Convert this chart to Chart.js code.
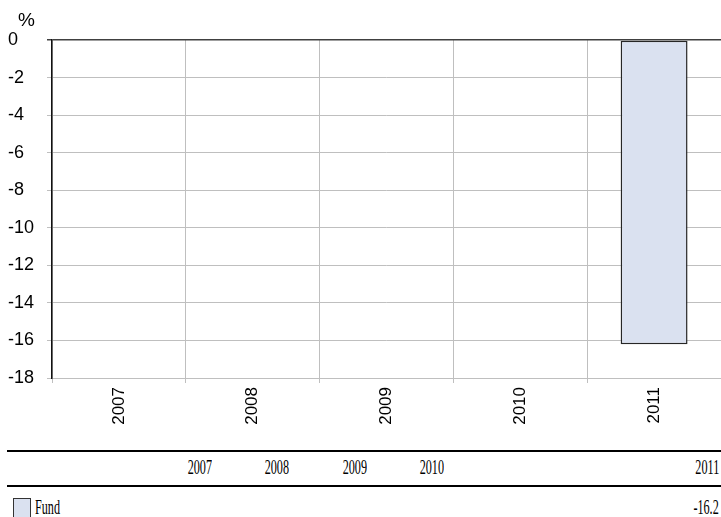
<!DOCTYPE html>
<html>
<head>
<meta charset="utf-8">
<script src="https://cdn.jsdelivr.net/npm/chart.js@4/dist/chart.umd.min.js"></script>
<style>
  body { margin: 0; background: #fff; }
  #wrap { position: relative; width: 721px; height: 517px; overflow: hidden; }
  #chart { position: absolute; left: 0; top: 0; }
  .rule { position: absolute; left: 7px; width: 714px; height: 2px; background: #000; }
  .cell {
    position: absolute; font: 21px "Liberation Serif", serif; color: #000;
    white-space: nowrap; transform: scaleX(0.58); transform-origin: right center;
    line-height: 22px;
  }
  .cell.left { transform-origin: left center; }
  #swatch {
    position: absolute; left: 13px; top: 498px; width: 16px; height: 18px;
    background: #dae1f0; border: 1px solid #333;
  }
</style>
</head>
<body>
<div id="wrap">
  <canvas id="chart" width="721" height="440"></canvas>
  <div class="rule" style="top:450px"></div>
  <div class="rule" style="top:485px"></div>
  <div id="swatch"></div>
</div>
<script>
// Data
const years = ["2007", "2008", "2009", "2010", "2011"];
const fundValues = [null, null, null, null, -16.2];
const seriesName = "Fund";
const yMin = -18;
const yMax = 0;
const yStep = 2;
const unitLabel = "%";

// table column right edges
const colRight = [212, 289, 367, 444, 719];

const wrap = document.getElementById("wrap");

function addCell(text, right, centerY, leftAligned) {
  const el = document.createElement("div");
  el.className = "cell" + (leftAligned ? " left" : "");
  el.textContent = text;
  el.style.top = centerY - 11 + "px";
  if (leftAligned) el.style.left = right + "px";
  else el.style.right = 721 - right + "px";
  wrap.appendChild(el);
}

years.forEach((y, i) => addCell(y, colRight[i], 467, false));
addCell(seriesName, 35, 507, true);
fundValues.forEach((v, i) => {
  if (v !== null) addCell(v.toFixed(1), colRight[i], 507, false);
});

// "%" above the y axis
const unitPlugin = {
  id: "unitLabel",
  afterDraw(chart) {
    const ctx = chart.ctx;
    ctx.save();
    ctx.font = '19px "Liberation Sans", Arial, sans-serif';
    ctx.fillStyle = "#000";
    ctx.textAlign = "left";
    ctx.textBaseline = "middle";
    ctx.fillText(unitLabel, 18, 21);
    ctx.restore();
  },
};

new Chart(document.getElementById("chart"), {
  type: "bar",
  data: {
    labels: years,
    datasets: [
      {
        label: seriesName,
        data: fundValues,
        backgroundColor: "#dae1f0",
        borderColor: "#262626",
        borderWidth: 1.5,
        borderSkipped: false,
        barPercentage: 0.5,
        categoryPercentage: 1.0,
      },
    ],
  },
  options: {
    responsive: false,
    animation: false,
    layout: { padding: { left: 8, top: 40, right: 0, bottom: 0 } },
    plugins: {
      legend: { display: false },
      tooltip: { enabled: false },
    },
    scales: {
      x: {
        grid: { color: "#bfbfbf", lineWidth: 1, tickLength: 5, offset: true },
        border: { color: "#bfbfbf", width: 1 },
        ticks: {
          color: "#000",
          font: { family: "Liberation Sans", size: 17 },
          maxRotation: 90,
          minRotation: 90,
          autoSkip: false,
          padding: 4,
        },
        afterFit(scale) {
          scale.height = 62;
        },
      },
      y: {
        min: yMin,
        max: yMax,
        ticks: {
          stepSize: yStep,
          color: "#000",
          crossAlign: "far",
          font: { family: "Liberation Sans", size: 18 },
        },
        grid: {
          color: (c) => (c.tick && c.tick.value === 0 ? "#404040" : "#bfbfbf"),
          lineWidth: (c) => (c.tick && c.tick.value === 0 ? 1.5 : 1),
          tickLength: 5,
        },
        border: { color: "#111", width: 1.5 },
        afterFit(scale) {
          scale.width = 44;
        },
      },
    },
  },
  plugins: [unitPlugin],
});
</script>
</body>
</html>
